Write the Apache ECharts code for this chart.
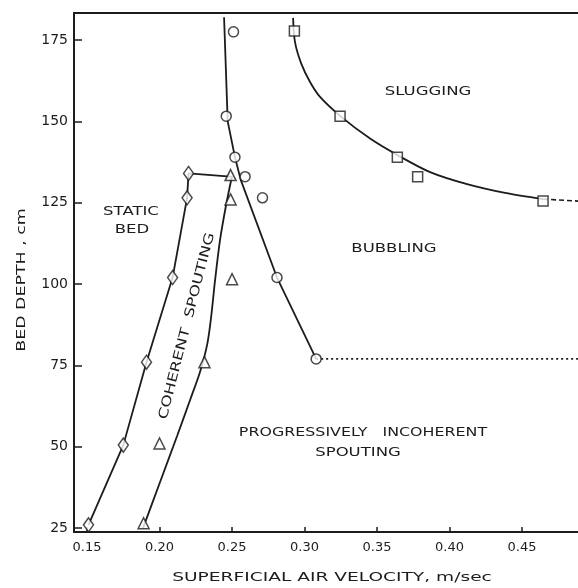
<!DOCTYPE html>
<html>
<head>
<meta charset="utf-8">
<script src="https://cdn.jsdelivr.net/npm/echarts@6/dist/echarts.min.js"></script>
<style>
html,body{margin:0;padding:0;background:#fff;}
#chart{width:578px;height:588px;}
</style>
</head>
<body>
<div id="chart"></div>
<script>
// ---- data ----
const xTicks = [0.15, 0.20, 0.25, 0.30, 0.35, 0.40, 0.45];
const yTicks = [25, 50, 75, 100, 125, 150, 175];

const diamondX = [0.151, 0.175, 0.191, 0.209, 0.219, 0.220];
const diamondY = [26, 50.5, 76, 102, 126.5, 134];

const triangleX = [0.189, 0.200, 0.231, 0.250, 0.249, 0.249];
const triangleY = [26.5, 51, 76, 101.5, 126, 133.5];

const circleX = [0.251, 0.246, 0.252, 0.259, 0.271, 0.281, 0.308];
const circleY = [177.5, 151.6, 139, 133, 126.5, 102, 77];

const squareX = [0.293, 0.3245, 0.364, 0.378, 0.4645];
const squareY = [177.8, 151.6, 139, 133, 125.5];

// boundary curves (hand-fitted lines in the figure)
const staticLineX = [0.151, 0.175, 0.191, 0.209, 0.219, 0.220, 0.249];
const staticLineY = [26, 50.5, 76, 102, 126.5, 134, 133];

const coherentLineX = [0.1886, 0.2003, 0.2121, 0.2210, 0.2279, 0.2328, 0.2355, 0.2383, 0.2417, 0.2459, 0.250];
const coherentLineY = [25, 39.1, 53.3, 64.3, 73.0, 81.3, 89.6, 101.2, 113.5, 124.3, 133.2];

const bubblingLineX = [0.2445, 0.247, 0.252, 0.256, 0.281, 0.308];
const bubblingLineY = [182, 150, 139, 132, 102, 77];

const incoherentDotX = [0.308, 0.4886];
const incoherentDotY = [77, 77];

const sluggingLineX = [0.2921, 0.2934, 0.2976, 0.3038, 0.3107, 0.3245, 0.3452, 0.3638, 0.3866, 0.4121, 0.4383, 0.4645];
const sluggingLineY = [181.8, 174.4, 167.9, 162.1, 157.5, 151.7, 144.7, 139.7, 134.4, 130.7, 128.0, 126.1];

const sluggingDashX = [0.4645, 0.4886];
const sluggingDashY = [126.1, 125.5];

const zip = (xs, ys) => xs.map((x, i) => [x, ys[i]]);

const INK = '#1c1c1c';
const FONT = 'DejaVu Sans';

const chart = echarts.init(document.getElementById('chart'), null, {renderer: 'canvas'});

function lineSeries(xs, ys, opts) {
  return Object.assign({
    type: 'line',
    data: zip(xs, ys),
    symbol: 'none',
    smooth: false,
    lineStyle: {color: INK, width: 1.8},
    silent: true,
    z: 2
  }, opts || {});
}
function markerSeries(xs, ys, symbol, size) {
  return {
    type: 'scatter',
    data: zip(xs, ys),
    symbol: symbol,
    symbolSize: size,
    itemStyle: {color: '#fff', borderColor: INK, borderWidth: 1.5},
    silent: true,
    z: 3
  };
}

function label(text, x, y, opts) {
  const o = opts || {};
  return {
    type: 'text', x: x, y: y,
    rotation: o.rotation || 0,
    scaleX: o.scaleX || 1.27,
    style: {text: text, align: 'center', verticalAlign: 'middle', fontFamily: FONT, fontSize: o.fontSize || 13, fill: INK}
  };
}

chart.setOption({
  animation: false,
  backgroundColor: '#fff',
  grid: {left: 74, right: 0, top: 13, bottom: 56, containLabel: false},
  xAxis: [{
    type: 'value', position: 'bottom', min: 0.141, max: 0.4886,
    axisLine: {show: true, lineStyle: {color: INK, width: 2}},
    axisTick: {show: true, inside: true, length: 5, customValues: xTicks, lineStyle: {color: INK, width: 1.5}},
    axisLabel: {show: true, customValues: xTicks, formatter: v => v.toFixed(2), fontFamily: FONT, fontSize: 13, color: INK, margin: 9},
    splitLine: {show: false}
  }, {
    type: 'value', position: 'top', min: 0.141, max: 0.4886,
    axisLine: {show: true, onZero: false, lineStyle: {color: INK, width: 2}},
    axisTick: {show: false}, axisLabel: {show: false}, splitLine: {show: false}
  }],
  yAxis: {
    type: 'value', min: 23.8, max: 183.3,
    axisLine: {show: true, lineStyle: {color: INK, width: 2}},
    axisTick: {show: true, inside: true, length: 8, customValues: yTicks, lineStyle: {color: INK, width: 1.5}},
    axisLabel: {show: true, customValues: yTicks, fontFamily: FONT, fontSize: 14, color: INK, margin: 6},
    splitLine: {show: false}
  },
  series: [
    lineSeries(staticLineX, staticLineY),
    lineSeries(coherentLineX, coherentLineY, {smooth: 0.3}),
    lineSeries(bubblingLineX, bubblingLineY),
    lineSeries(incoherentDotX, incoherentDotY, {lineStyle: {color: INK, width: 1.6, type: [2, 3]}}),
    lineSeries(sluggingLineX, sluggingLineY, {smooth: 0.3}),
    lineSeries(sluggingDashX, sluggingDashY, {lineStyle: {color: INK, width: 1.6, type: [5, 3]}}),
    markerSeries(diamondX, diamondY, 'diamond', [10, 14]),
    markerSeries(triangleX, triangleY, 'triangle', 11),
    markerSeries(circleX, circleY, 'circle', 10),
    markerSeries(squareX, squareY, 'rect', 10)
  ],
  graphic: [
    label('SLUGGING', 428, 92),
    label('STATIC', 131, 212),
    label('BED', 132, 230),
    label('BUBBLING', 394, 249),
    label('PROGRESSIVELY   INCOHERENT', 363, 433, {scaleX: 1.22}),
    label('SPOUTING', 358, 453),
    label('COHERENT  SPOUTING', 187, 326, {rotation: 1.32, scaleX: 1.3}),
    label('BED DEPTH , cm', 22, 280, {rotation: Math.PI / 2, scaleX: 1.45, fontSize: 12}),
    label('SUPERFICIAL AIR VELOCITY, m/sec', 332, 578, {scaleX: 1.55, fontSize: 12})
  ]
});
</script>
</body>
</html>
